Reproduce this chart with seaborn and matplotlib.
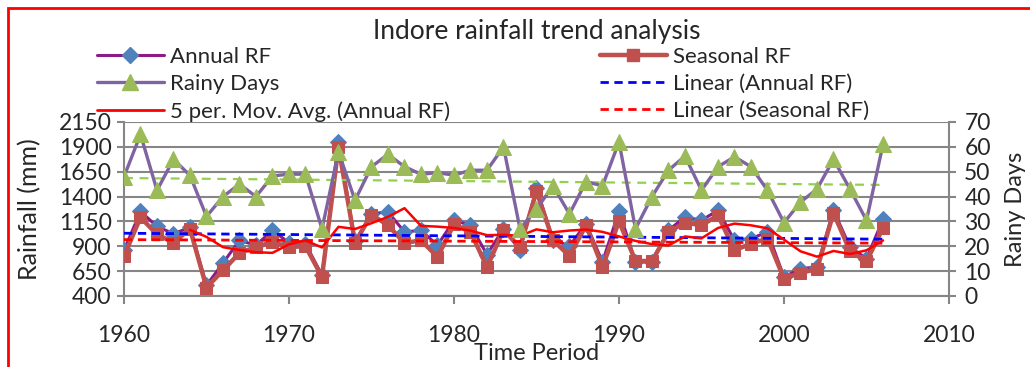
import numpy as np
import pandas as pd
import matplotlib
matplotlib.use("Agg")
import matplotlib.pyplot as plt
from matplotlib.lines import Line2D
from matplotlib.patches import Rectangle
import seaborn as sns

# ==========================================
# Data
# ==========================================
years = list(range(1960, 2007))

annual_rf = [860, 1250, 1100, 1026, 1090, 507, 732, 960, 910, 1061,
             935, 926, 608, 1949, 950, 1228, 1245, 1044, 1061, 910,
             1161, 1111, 816, 1078, 860, 1486, 966, 903, 1128, 742,
             1255, 742, 742, 1061, 1195, 1161, 1262, 960, 977, 1044,
             591, 675, 692, 1262, 893, 776, 1171]

seasonal_rf = [800, 1190, 1020, 937, 1075, 484, 658, 833, 893, 943,
               893, 900, 591, 1899, 937, 1218, 1111, 933, 960, 793,
               1120, 1044, 692, 1061, 893, 1453, 960, 803, 1111, 692,
               1151, 752, 752, 1044, 1138, 1111, 1211, 860, 926, 977,
               574, 635, 668, 1235, 850, 749, 1084]

rainy_days = [48, 65, 42.5, 55, 48.5, 32, 40, 45, 40, 48.3,
              49, 49, 27, 58, 38.5, 52, 57, 52, 49, 49.6,
              48.6, 50.6, 50.6, 60, 27, 35, 44.3, 33, 46, 44.3,
              62, 27, 40, 50.6, 56.3, 42.5, 52, 56, 52, 42.5,
              29.5, 37.8, 43, 55, 43, 30.4, 61]

rf_ticks = [400, 650, 900, 1150, 1400, 1650, 1900, 2150]
day_ticks = [0, 10, 20, 30, 40, 50, 60, 70]
year_ticks = [1960, 1970, 1980, 1990, 2000, 2010]

df = pd.DataFrame({"year": years, "annual": annual_rf,
                   "seasonal": seasonal_rf, "rainy": rainy_days})
# Excel style trailing 5 period moving average
df["ma5"] = df["annual"].rolling(5).mean()

# ==========================================
# Styling
# ==========================================
sns.set_style("white")
plt.rcParams["font.family"] = ["Lato", "DejaVu Sans"]

C_ANNUAL_LINE = "#8B1C87"
C_ANNUAL_MARK = "#4F81BD"
C_SEAS = "#C0504D"
C_RAINY_LINE = "#8064A2"
C_RAINY_MARK = "#9BBB59"
C_GRID = "#868686"
FS = 16.5

W, H = 1030, 367
fig = plt.figure(figsize=(W / 100, H / 100), dpi=100)
ax = fig.add_axes([124 / W, 1 - 296 / H, (949 - 124) / W, (296 - 122) / H])
ax2 = ax.twinx()

# primary axis: rainfall
sns.lineplot(data=df, x="year", y="annual", ax=ax, color=C_ANNUAL_LINE, lw=2.2,
             marker="D", markersize=8, markerfacecolor=C_ANNUAL_MARK,
             markeredgecolor=C_ANNUAL_MARK, zorder=3)
sns.lineplot(data=df, x="year", y="seasonal", ax=ax, color=C_SEAS, lw=3.2,
             marker="s", markersize=9, markerfacecolor=C_SEAS,
             markeredgecolor=C_SEAS, zorder=4)
sns.regplot(data=df, x="year", y="annual", ax=ax, scatter=False, ci=None,
            color="#0000FF", line_kws=dict(ls=(0, (3, 2)), lw=2, zorder=5))
sns.regplot(data=df, x="year", y="seasonal", ax=ax, scatter=False, ci=None,
            color="#FF0000", line_kws=dict(ls=(0, (3, 2)), lw=2, zorder=5))
sns.lineplot(data=df.dropna(), x="year", y="ma5", ax=ax, color="#FF0000",
             lw=1.8, zorder=6)

# secondary axis: rainy days
sns.lineplot(data=df, x="year", y="rainy", ax=ax2, color=C_RAINY_LINE, lw=2.4,
             marker="^", markersize=11, markerfacecolor=C_RAINY_MARK,
             markeredgecolor=C_RAINY_MARK, zorder=3)
sns.regplot(data=df, x="year", y="rainy", ax=ax2, scatter=False, ci=None,
            color="#92D050", line_kws=dict(ls=(0, (4, 3)), lw=1.6, zorder=2))

ax.set_xlim(1960, 2010)
ax.set_ylim(400, 2150)
ax2.set_ylim(0, 70)
ax.set_xticks(year_ticks)
ax.set_yticks(rf_ticks)
ax2.set_yticks(day_ticks)
ax.set_xlabel("")
ax.set_ylabel("")
ax2.set_ylabel("")

ax.grid(axis="y", color=C_GRID, lw=1.5)
ax.grid(axis="x", visible=False)
ax2.grid(False)
ax.set_axisbelow(True)

for a in (ax, ax2):
    a.spines["top"].set_visible(False)
    for side in ("left", "bottom", "right"):
        a.spines[side].set_color(C_GRID)
        a.spines[side].set_linewidth(1.5)
ax.spines["right"].set_visible(False)
ax2.spines["left"].set_visible(False)
ax2.spines["bottom"].set_visible(False)

ax.tick_params(axis="x", direction="out", length=6, width=1.5, color=C_GRID,
               labelsize=FS, pad=15, bottom=True)
ax.tick_params(axis="y", direction="out", length=5, width=1.5, color=C_GRID,
               labelsize=FS, pad=4, left=True)
ax2.tick_params(axis="y", direction="out", length=5, width=1.5, color=C_GRID,
                labelsize=FS, pad=6, right=True)

# titles / axis labels
fig.text(537 / W, 1 - 31 / H, "Indore rainfall trend analysis",
         ha="center", va="center", fontsize=19)
fig.text(537 / W, 1 - 353 / H, "Time Period", ha="center", va="center",
         fontsize=17)
fig.text(30 / W, 1 - 209 / H, "Rainfall (mm)", ha="center", va="center",
         rotation=90, fontsize=18)
fig.text(1016 / W, 1 - 209 / H, "Rainy Days", ha="center", va="center",
         rotation=90, fontsize=17)

# legend, Excel layout: two columns
h_annual = Line2D([], [], color=C_ANNUAL_LINE, lw=2.2, marker="D", markersize=8,
                  markerfacecolor=C_ANNUAL_MARK, markeredgecolor=C_ANNUAL_MARK)
h_seas = Line2D([], [], color=C_SEAS, lw=3.2, marker="s", markersize=9,
                markerfacecolor=C_SEAS, markeredgecolor=C_SEAS)
h_rainy = Line2D([], [], color=C_RAINY_LINE, lw=2.4, marker="^", markersize=11,
                 markerfacecolor=C_RAINY_MARK, markeredgecolor=C_RAINY_MARK)
h_lin_a = Line2D([], [], color="#0000FF", lw=2, ls=(0, (3, 2)))
h_ma = Line2D([], [], color="#FF0000", lw=2)
h_lin_s = Line2D([], [], color="#FF0000", lw=2, ls=(0, (3, 2)))

leg_kw = dict(loc="upper left", frameon=False, fontsize=16, handlelength=3.0,
              handletextpad=0.3, labelspacing=0.32, borderpad=0,
              borderaxespad=0)
leg1 = fig.legend([h_annual, h_rainy, h_ma],
                  ["Annual RF", "Rainy Days", "5 per. Mov. Avg. (Annual RF)"],
                  bbox_to_anchor=(97 / W, 1 - 47 / H), **leg_kw)
leg2 = fig.legend([h_seas, h_lin_a, h_lin_s],
                  ["Seasonal RF", "Linear (Annual RF)", "Linear (Seasonal RF)"],
                  bbox_to_anchor=(600 / W, 1 - 47 / H), **leg_kw)

# red chart-area border (only left and top visible in the crop)
fig.patches.append(Rectangle((8 / W, -0.2), 1.2, 1.2 - 8 / H,
                             transform=fig.transFigure, fill=False,
                             edgecolor="#FF0000", lw=2))

fig.savefig("out.png", dpi=100)
